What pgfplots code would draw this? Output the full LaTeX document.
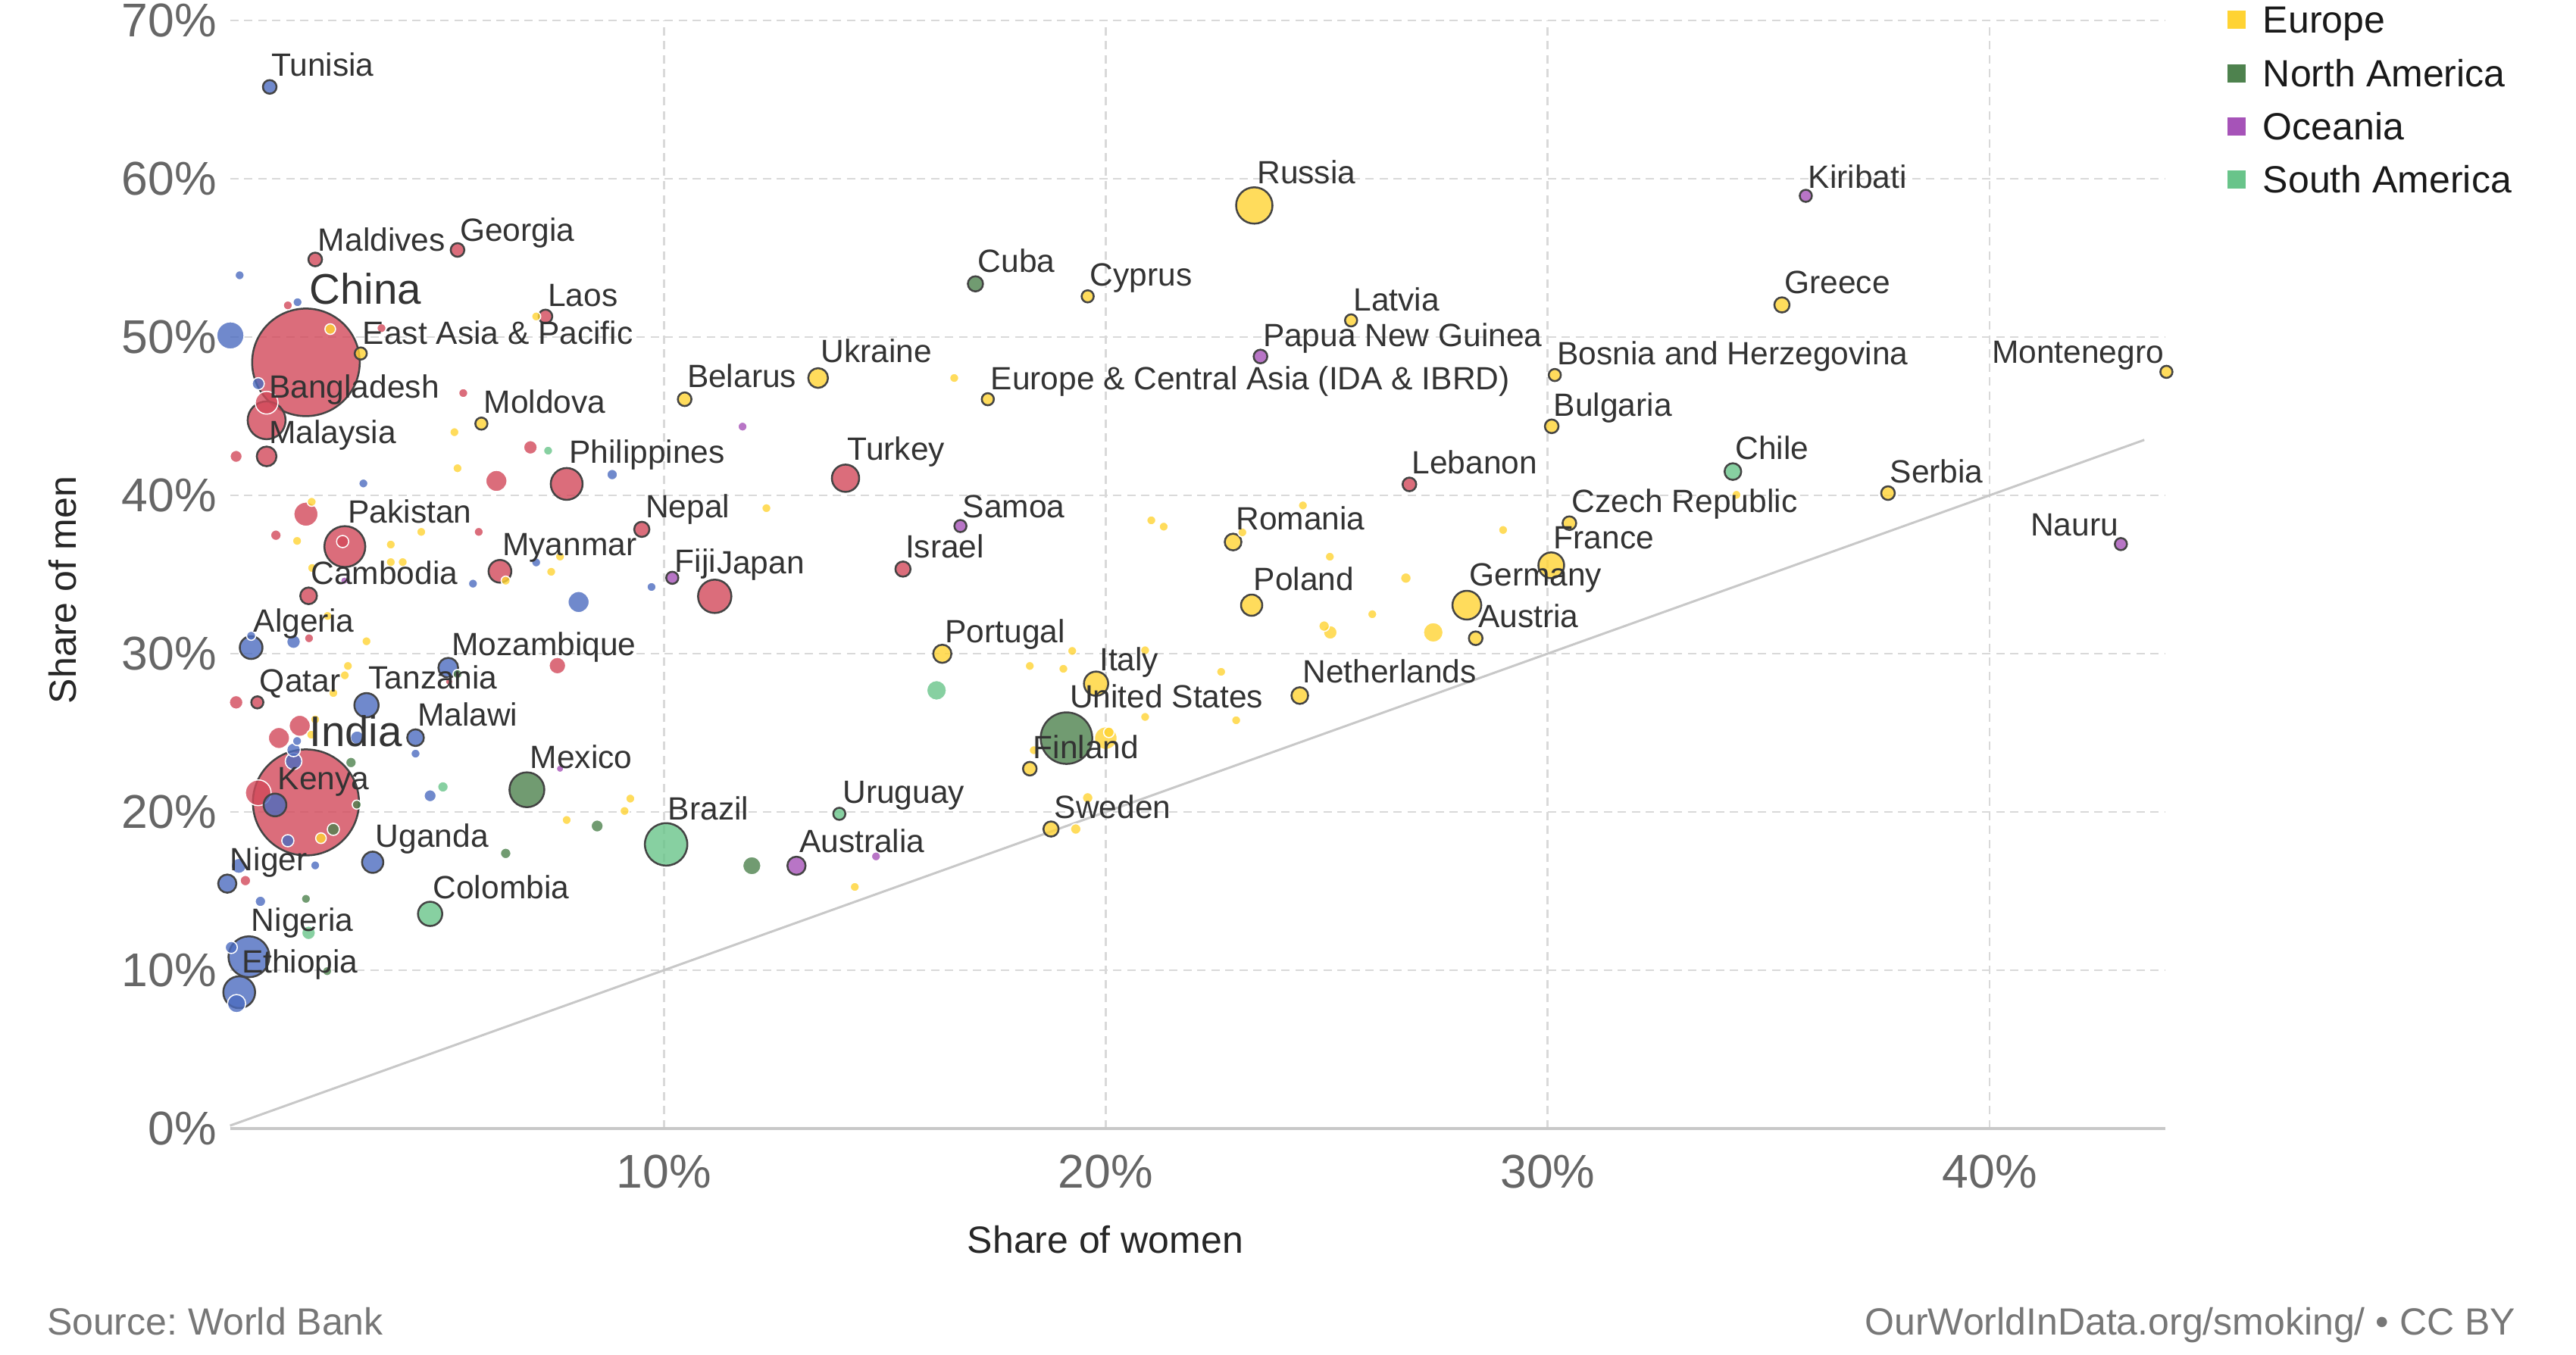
\documentclass[border=0pt]{standalone}
\usepackage{pgfplots}
\pgfplotsset{compat=1.18}
\usepackage{fontspec}
\setmainfont{Liberation Sans}
\frenchspacing
\definecolor{cafr}{HTML}{4C6CBF}
\definecolor{casi}{HTML}{D2495A}
\definecolor{ceur}{HTML}{FFD333}
\definecolor{cna}{HTML}{4E824E}
\definecolor{coce}{HTML}{A653B8}
\definecolor{csa}{HTML}{69C48A}
\definecolor{edge}{HTML}{444444}
\definecolor{gridgray}{HTML}{D9D9D9}
\definecolor{axisgray}{HTML}{C8C8C8}
\definecolor{tickgray}{HTML}{666666}
\definecolor{labgray}{HTML}{333333}
\definecolor{srcgray}{HTML}{777777}
\newcommand{\lab}[3]{\node[anchor=base west,inner sep=0pt,font=\fontsize{8.5}{10}\selectfont,text=labgray] at (axis cs:#1,#2) {#3};}
\newcommand{\labr}[3]{\node[anchor=base east,inner sep=0pt,font=\fontsize{8.5}{10}\selectfont,text=labgray] at (axis cs:#1,#2) {#3};}
\newcommand{\labbig}[3]{\node[anchor=base west,inner sep=0pt,font=\fontsize{11.3}{13}\selectfont,text=labgray] at (axis cs:#1,#2) {#3};}
\begin{document}
\begin{tikzpicture}
\begin{axis}[
  set layers,
  at={(60.72pt,59.8pt)}, anchor=south west,
  scale only axis, width=510.8pt, height=292.6pt,
  xmin=0.182, xmax=43.97, ymin=0, ymax=70,
  axis x line*=bottom, axis y line*=left,
  x axis line style={-, draw=axisgray, line width=0.8pt},
  y axis line style={draw=none},
  grid=major,
  major grid style={dash pattern=on 2.2pt off 1.5pt, draw=gridgray, line width=0.55pt},
  xtick={10,20,30,40}, xticklabels={10\%,20\%,30\%,40\%},
  ytick={0,10,20,30,40,50,60,70}, yticklabels={0\%,10\%,20\%,30\%,40\%,50\%,60\%,70\%},
  major tick length=0pt, tick style={draw=none},
  tick label style={font=\fontsize{12.5}{15}\selectfont, text=tickgray},
  xticklabel style={yshift=-3.4pt},
  clip=false,
]
\addplot[draw=axisgray, line width=0.6pt] coordinates {(0.182,0.182) (43.5,43.5)};
\addplot[scatter, only marks, mark=*,
  visualization depends on={value \thisrow{r}\as\rr},
  visualization depends on={value \thisrow{c}\as\cc},
  visualization depends on={value \thisrow{o}\as\oo},
  scatter/@pre marker code/.code={%
    \ifcase\cc\relax \def\fc{cafr}\or\def\fc{casi}\or\def\fc{ceur}\or\def\fc{cna}\or\def\fc{coce}\or\def\fc{csa}\fi
    \ifnum\oo=1\relax \def\dc{edge}\def\lw{0.5pt}\else\def\dc{white}\def\lw{0.3pt}\fi
    \scope[mark size=\rr pt, fill=\fc, draw=\dc, line width=\lw, fill opacity=0.8]},
  scatter/@post marker code/.code={\endscope},
] table {
x y r c o
1.90 48.4 14.2 1 1
1.90 20.60 14.0 1 1
19.11 24.66 6.8 3 1
10.05 17.95 5.6 5 1
2.78 36.76 5.4 1 1
0.61 10.85 5.4 0 1
1.01 44.74 5.0 1 1
23.36 58.31 4.8 2 1
6.90 21.40 4.6 3 1
11.15 33.62 4.4 1 1
7.80 40.72 4.2 1 1
0.39 8.61 4.2 0 1
28.17 33.06 3.8 2 1
0.19 50.1 3.6 0 0
14.11 41.08 3.6 1 1
30.08 35.58 3.4 2 1
0.82 21.21 3.4 1 0
3.27 26.74 3.2 0 1
1.90 38.81 3.2 1 0
19.78 28.1 3.2 2 1
4.71 13.56 3.2 5 1
1.01 45.85 3.0 1 0
0.66 30.38 3.0 0 1
6.29 35.20 3.0 1 1
1.20 20.44 3.0 0 1
20.0 24.66 3.0 2 0
6.21 40.91 2.8 1 0
8.07 33.26 2.8 0 0
1.76 25.44 2.8 1 0
1.29 24.67 2.8 1 0
3.41 16.82 2.8 0 1
23.30 33.06 2.8 2 1
1.01 42.46 2.6 1 1
5.12 29.11 2.6 0 1
13.49 47.41 2.6 2 1
27.41 31.34 2.6 2 0
16.17 27.68 2.6 5 0
0.12 15.47 2.4 0 1
0.33 7.89 2.4 0 0
16.30 29.99 2.4 2 1
11.99 16.60 2.4 3 0
13.0 16.60 2.4 4 1
1.96 33.65 2.2 1 1
7.59 29.24 2.2 1 0
4.38 24.69 2.2 0 1
1.62 23.20 2.2 0 0
22.88 37.05 2.2 2 1
24.39 27.35 2.2 2 1
34.19 41.5 2.2 5 1
9.50 37.85 2.0 1 1
15.41 35.34 2.0 1 1
18.76 18.92 2.0 2 1
35.30 52.03 2.0 2 1
17.05 53.36 2.0 3 1
0.38 16.59 2.0 0 0
1.08 65.8 1.8 0 1
2.11 54.9 1.8 1 1
5.33 55.5 1.8 1 1
7.32 51.3 1.8 1 1
6.98 43.03 1.8 1 0
1.62 30.75 1.8 0 0
0.32 26.92 1.8 1 0
3.06 24.69 1.8 0 0
1.62 23.92 1.8 0 0
10.47 46.07 1.8 2 1
18.28 22.73 1.8 2 1
30.09 44.36 1.8 2 1
30.49 38.24 1.8 2 1
28.37 30.97 1.8 2 1
37.70 40.14 1.8 2 1
25.08 31.34 1.8 2 0
26.87 40.69 1.8 1 1
23.5 48.77 1.8 4 1
1.96 12.36 1.8 5 0
3.14 48.96 1.6 2 1
0.82 47.05 1.6 0 0
0.32 42.46 1.6 1 0
5.87 44.53 1.6 2 1
2.73 37.08 1.6 1 0
0.80 26.92 1.6 1 1
1.49 18.18 1.6 0 0
4.71 21.02 1.6 0 0
0.21 11.44 1.6 0 0
2.52 18.90 1.6 3 0
8.49 19.11 1.6 3 0
19.59 52.57 1.6 2 1
17.33 46.07 1.6 2 1
25.55 51.05 1.6 2 1
30.16 47.6 1.6 2 1
44.0 47.8 1.6 2 1
10.19 34.79 1.6 4 1
16.71 38.06 1.6 4 1
35.84 58.92 1.6 4 1
42.97 36.92 1.6 4 1
13.97 19.88 1.6 5 1
8.83 41.31 1.4 0 0
1.22 37.48 1.4 1 0
0.87 14.35 1.4 0 0
0.53 15.66 1.4 1 0
2.45 50.5 1.4 2 0
2.24 18.34 1.4 2 0
20.07 25.03 1.4 2 0
19.32 18.92 1.4 2 0
19.59 20.89 1.4 2 0
26.79 34.77 1.4 2 0
24.94 31.74 1.4 2 0
2.92 23.12 1.4 3 0
6.42 17.38 1.4 3 0
5.00 21.58 1.4 5 0
0.40 53.9 1.2 0 0
1.71 52.2 1.2 0 0
3.20 40.75 1.2 0 0
7.11 35.76 1.2 0 0
5.68 34.42 1.2 0 0
9.72 34.21 1.2 0 0
0.66 31.13 1.2 0 0
1.70 24.48 1.2 0 0
4.38 23.68 1.2 0 0
2.11 16.62 1.2 0 0
1.49 52.0 1.2 1 0
3.61 50.56 1.2 1 0
5.46 46.46 1.2 1 0
5.81 37.69 1.2 1 0
1.97 30.97 1.2 1 0
7.11 51.3 1.2 2 0
5.26 43.99 1.2 2 0
5.33 41.71 1.2 2 0
2.03 39.59 1.2 2 0
1.70 37.12 1.2 2 0
4.51 37.69 1.2 2 0
3.82 36.89 1.2 2 0
3.82 35.78 1.2 2 0
4.09 35.78 1.2 2 0
2.04 35.41 1.2 2 0
6.42 34.61 1.2 2 0
7.65 36.13 1.2 2 0
7.45 35.17 1.2 2 0
2.39 32.38 1.2 2 0
3.27 30.78 1.2 2 0
2.85 29.22 1.2 2 0
2.78 28.63 1.2 2 0
2.52 27.51 1.2 2 0
2.11 25.84 1.2 2 0
2.02 24.88 1.2 2 0
9.24 20.84 1.2 2 0
9.11 20.06 1.2 2 0
7.80 19.49 1.2 2 0
16.57 47.41 1.2 2 0
12.32 39.19 1.2 2 0
21.03 38.42 1.2 2 0
21.31 38.02 1.2 2 0
23.09 37.66 1.2 2 0
19.24 30.17 1.2 2 0
18.28 29.22 1.2 2 0
19.04 29.04 1.2 2 0
20.89 30.21 1.2 2 0
22.61 28.85 1.2 2 0
20.89 26.0 1.2 2 0
22.95 25.79 1.2 2 0
18.37 23.9 1.2 2 0
14.32 15.26 1.2 2 0
24.46 39.36 1.2 2 0
28.99 37.81 1.2 2 0
25.07 36.12 1.2 2 0
26.03 32.49 1.2 2 0
34.27 40.03 1.2 2 0
3.05 20.46 1.2 3 0
1.90 14.51 1.2 3 0
2.38 9.94 1.2 3 0
5.33 28.71 1.2 3 0
11.78 44.34 1.2 4 0
14.80 17.19 1.2 4 0
7.38 42.82 1.2 5 0
2.77 34.61 1.0 4 0
7.65 22.73 1.0 4 0
5.14 28.23 1.0 1 0
};
\begin{pgfonlayer}{axis foreground}
\lab{1.10}{66.5}{Tunisia}
\lab{2.16}{55.45}{Maldives}
\lab{5.37}{56.06}{Georgia}
\labbig{1.96}{52.07}{China}
\lab{7.36}{51.95}{Laos}
\lab{3.17}{49.55}{East Asia \& Pacific}
\lab{1.05}{46.17}{Bangladesh}
\lab{5.91}{45.2}{Moldova}
\lab{1.05}{43.3}{Malaysia}
\lab{7.84}{42.02}{Philippines}
\lab{2.84}{38.24}{Pakistan}
\lab{6.33}{36.2}{Myanmar}
\lab{2.0}{34.37}{Cambodia}
\lab{0.70}{31.34}{Algeria}
\lab{5.18}{29.9}{Mozambique}
\lab{0.84}{27.59}{Qatar}
\lab{3.30}{27.75}{Tanzania}
\lab{4.41}{25.44}{Malawi}
\labbig{1.96}{24.16}{India}
\lab{6.96}{22.76}{Mexico}
\lab{1.25}{21.4}{Kenya}
\lab{3.46}{17.78}{Uganda}
\lab{0.17}{16.27}{Niger}
\lab{4.76}{14.51}{Colombia}
\lab{0.65}{12.44}{Nigeria}
\lab{0.43}{9.81}{Ethiopia}
\lab{10.08}{19.5}{Brazil}
\lab{9.57}{38.6}{Nepal}
\lab{10.23}{35.12}{Fiji}
\lab{11.18}{35.03}{Japan}
\lab{10.51}{46.8}{Belarus}
\lab{13.54}{48.41}{Ukraine}
\lab{17.38}{46.67}{Europe \& Central Asia (IDA \& IBRD)}
\lab{17.09}{54.1}{Cuba}
\lab{19.63}{53.22}{Cyprus}
\lab{14.14}{42.22}{Turkey}
\lab{16.75}{38.6}{Samoa}
\lab{15.45}{36.04}{Israel}
\lab{16.35}{30.67}{Portugal}
\lab{19.84}{28.94}{Italy}
\lab{19.17}{26.59}{United States}
\lab{18.34}{23.37}{Finland}
\lab{14.03}{20.55}{Uruguay}
\lab{18.82}{19.57}{Sweden}
\lab{13.05}{17.44}{Australia}
\lab{23.41}{59.71}{Russia}
\lab{25.59}{51.65}{Latvia}
\lab{23.54}{49.42}{Papua New Guinea}
\lab{30.2}{48.23}{Bosnia and Herzegovina}
\lab{30.12}{45.01}{Bulgaria}
\lab{26.91}{41.38}{Lebanon}
\lab{30.53}{38.9}{Czech Republic}
\lab{30.12}{36.62}{France}
\lab{22.93}{37.83}{Romania}
\lab{23.33}{34.0}{Poland}
\lab{28.21}{34.26}{Germany}
\lab{28.41}{31.66}{Austria}
\lab{24.44}{28.15}{Netherlands}
\lab{35.88}{59.42}{Kiribati}
\lab{35.34}{52.74}{Greece}
\labr{43.96}{48.33}{Montenegro}
\lab{34.23}{42.25}{Chile}
\lab{37.73}{40.81}{Serbia}
\labr{42.93}{37.45}{Nauru}
\end{pgfonlayer}
\end{axis}
\begin{scope}[yshift=357.8pt, x=0.2pt, y=-0.2pt]
  \node[anchor=base, inner sep=0pt, font=\fontsize{10}{12}\selectfont, text=black!85] at (1459,1655) {Share of women};
  \node[anchor=base, rotate=90, inner sep=0pt, font=\fontsize{10}{12}\selectfont, text=black!85] at (101,779) {Share of men};
  \node[anchor=base west, inner sep=0pt, font=\fontsize{10}{12}\selectfont, text=srcgray] at (61,1763) {Source: World Bank};
  \node[anchor=base east, inner sep=0pt, font=\fontsize{10}{12}\selectfont, text=srcgray] at (3321,1763) {OurWorldInData.org/smoking/ • CC BY};
  \fill[ceur] (2940,14) rectangle (2964,38);
  \node[anchor=base west, inner sep=0pt, font=\fontsize{10}{12}\selectfont, text=black!90] at (2986,43.5) {Europe};
  \fill[cna] (2940,84.7) rectangle (2964,108.7);
  \node[anchor=base west, inner sep=0pt, font=\fontsize{10}{12}\selectfont, text=black!90] at (2986,114.2) {North America};
  \fill[coce] (2940,154.7) rectangle (2964,178.7);
  \node[anchor=base west, inner sep=0pt, font=\fontsize{10}{12}\selectfont, text=black!90] at (2986,184.2) {Oceania};
  \fill[csa] (2940,225.3) rectangle (2964,249.3);
  \node[anchor=base west, inner sep=0pt, font=\fontsize{10}{12}\selectfont, text=black!90] at (2986,254.8) {South America};
\end{scope}
\pgfresetboundingbox
\useasboundingbox (0,0) rectangle (680pt,357.8pt);
\end{tikzpicture}
\end{document}
